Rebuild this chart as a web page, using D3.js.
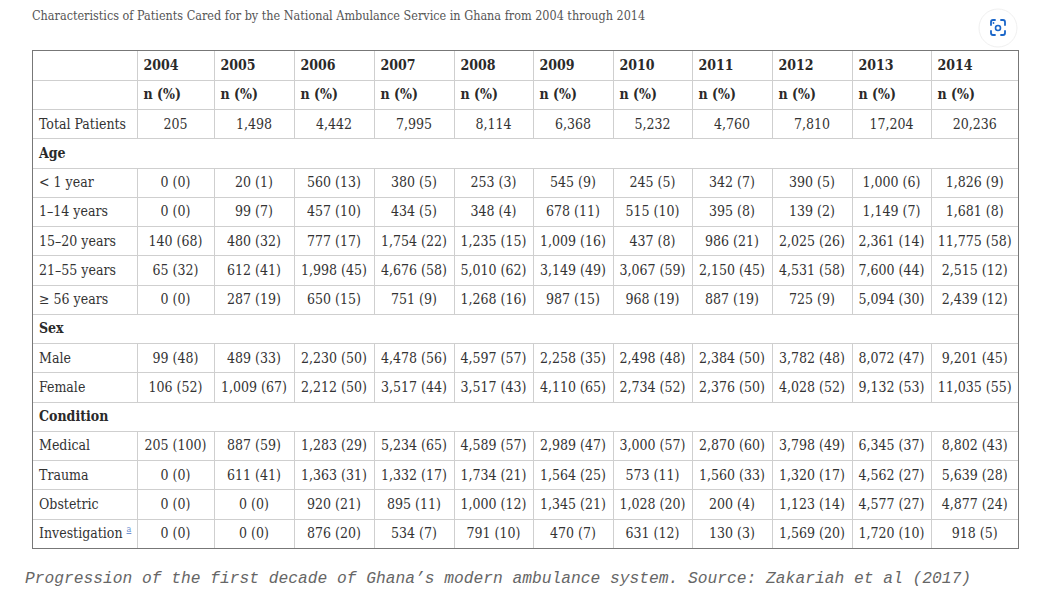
<!DOCTYPE html>
<html>
<head>
<meta charset="utf-8">
<script src="https://cdn.jsdelivr.net/npm/d3@7"></script>
<style>
  body { margin: 0; background: #fff; font-family: "DejaVu Serif", serif; }
  #title { position: absolute; left: 32px; top: 8px; font-size: 12.5px; color: #555; font-stretch: condensed; }
  #wrap { position: absolute; left: 32px; top: 50px; border: 1px solid #777; }
  table { border-collapse: collapse; table-layout: fixed; width: 985px; }
  td, th { border: 1px solid #cfcfcf; height: 29.25px; padding: 0 6px; font-size: 14px; color: #333;
           font-stretch: condensed; white-space: nowrap; box-sizing: border-box; line-height: 1.2; }
  tr:first-child td, tr:first-child th { border-top: none; }
  tr:last-child td { border-bottom: none; }
  td:first-child, th:first-child { border-left: none; }
  td:last-child, th:last-child { border-right: none; }
  th { text-align: left; font-weight: bold; color: #2a2a2a; }
  td.num { text-align: center; }
  td.section { font-weight: bold; color: #2a2a2a; }
  sup { line-height: 0; vertical-align: baseline; position: relative; top: -6px; }
  sup a { color: #6a8fd0; font-size: 9px; }
  #caption { position: absolute; left: 25px; top: 569px; font-family: "Liberation Mono", monospace;
             font-style: italic; font-size: 16.25px; color: #666; }
  #icon { position: absolute; left: 978px; top: 8px; }
</style>
</head>
<body>
<div id="title">Characteristics of Patients Cared for by the National Ambulance Service in Ghana from 2004 through 2014</div>
<div id="wrap"></div>
<div id="caption">Progression of the first decade of Ghana’s modern ambulance system. Source: Zakariah et al (2017)</div>
<svg id="icon" width="40" height="40"></svg>
<script>
const years = ["2004", "2005", "2006", "2007", "2008", "2009", "2010", "2011", "2012", "2013", "2014"];
const totalPatients = [205, 1498, 4442, 7995, 8114, 6368, 5232, 4760, 7810, 17204, 20236];

// [n, %] per year
const ageUnder1 = [[0,0],[20,1],[560,13],[380,5],[253,3],[545,9],[245,5],[342,7],[390,5],[1000,6],[1826,9]];
const age1to14 = [[0,0],[99,7],[457,10],[434,5],[348,4],[678,11],[515,10],[395,8],[139,2],[1149,7],[1681,8]];
const age15to20 = [[140,68],[480,32],[777,17],[1754,22],[1235,15],[1009,16],[437,8],[986,21],[2025,26],[2361,14],[11775,58]];
const age21to55 = [[65,32],[612,41],[1998,45],[4676,58],[5010,62],[3149,49],[3067,59],[2150,45],[4531,58],[7600,44],[2515,12]];
const age56plus = [[0,0],[287,19],[650,15],[751,9],[1268,16],[987,15],[968,19],[887,19],[725,9],[5094,30],[2439,12]];
const male = [[99,48],[489,33],[2230,50],[4478,56],[4597,57],[2258,35],[2498,48],[2384,50],[3782,48],[8072,47],[9201,45]];
const female = [[106,52],[1009,67],[2212,50],[3517,44],[3517,43],[4110,65],[2734,52],[2376,50],[4028,52],[9132,53],[11035,55]];
const medical = [[205,100],[887,59],[1283,29],[5234,65],[4589,57],[2989,47],[3000,57],[2870,60],[3798,49],[6345,37],[8802,43]];
const trauma = [[0,0],[611,41],[1363,31],[1332,17],[1734,21],[1564,25],[573,11],[1560,33],[1320,17],[4562,27],[5639,28]];
const obstetric = [[0,0],[0,0],[920,21],[895,11],[1000,12],[1345,21],[1028,20],[200,4],[1123,14],[4577,27],[4877,24]];
const investigation = [[0,0],[0,0],[876,20],[534,7],[791,10],[470,7],[631,12],[130,3],[1569,20],[1720,10],[918,5]];

const colWidths = [104, 77, 80, 80, 80, 79, 80, 79, 80, 80, 79, 87];

const fmt = d3.format(",");
const cellText = d => fmt(d[0]) + " (" + d[1] + ")";

const rows = [
  {type: "head", cells: years},
  {type: "head", cells: years.map(() => "n (%)")},
  {type: "data", label: "Total Patients", cells: totalPatients.map(fmt)},
  {type: "section", label: "Age"},
  {type: "data", label: "< 1 year", cells: ageUnder1.map(cellText)},
  {type: "data", label: "1–14 years", cells: age1to14.map(cellText)},
  {type: "data", label: "15–20 years", cells: age15to20.map(cellText)},
  {type: "data", label: "21–55 years", cells: age21to55.map(cellText)},
  {type: "data", label: "≥ 56 years", cells: age56plus.map(cellText)},
  {type: "section", label: "Sex"},
  {type: "data", label: "Male", cells: male.map(cellText)},
  {type: "data", label: "Female", cells: female.map(cellText)},
  {type: "section", label: "Condition"},
  {type: "data", label: "Medical", cells: medical.map(cellText)},
  {type: "data", label: "Trauma", cells: trauma.map(cellText)},
  {type: "data", label: "Obstetric", cells: obstetric.map(cellText)},
  {type: "data", label: "Investigation", note: "a", cells: investigation.map(cellText)}
];

const table = d3.select("#wrap").append("table");
table.append("colgroup").selectAll("col")
  .data(colWidths)
  .enter().append("col")
  .style("width", d => d + "px");

const tbody = table.append("tbody");
rows.forEach(r => {
  const tr = tbody.append("tr");
  if (r.type === "head") {
    tr.append("th");
    tr.selectAll("th.y").data(r.cells).enter().append("th").attr("class", "y").text(d => d);
  } else if (r.type === "section") {
    tr.append("td").attr("class", "section").attr("colspan", years.length + 1).text(r.label);
  } else {
    const lab = tr.append("td").text(r.label);
    if (r.note) {
      lab.append("span").text(" ");
      lab.append("sup").append("a").attr("href", "#").text(r.note);
    }
    tr.selectAll("td.num").data(r.cells).enter().append("td").attr("class", "num").text(d => d);
  }
});

// little scan button in the top right corner
const icon = d3.select("#icon");
icon.append("circle").attr("cx", 20).attr("cy", 20).attr("r", 19)
  .attr("fill", "#fff").attr("stroke", "#f0f0f0");
const b = "#1a66c9";
const corners = ["M13,17 v-3 q0,-2 2,-2 h2", "M23,12 h2 q2,0 2,2 v3", "M27,23 v2 q0,2 -2,2 h-2", "M17,27 h-2 q-2,0 -2,-2 v-2"];
icon.selectAll("path").data(corners).enter().append("path")
  .attr("d", d => d).attr("fill", "none").attr("stroke", b).attr("stroke-width", 1.8).attr("stroke-linecap", "round");
icon.append("circle").attr("cx", 20).attr("cy", 20).attr("r", 2.5).attr("fill", "none").attr("stroke", b).attr("stroke-width", 1.6);
icon.append("circle").attr("cx", 15.5).attr("cy", 15).attr("r", 0.9).attr("fill", b);
</script>
</body>
</html>
